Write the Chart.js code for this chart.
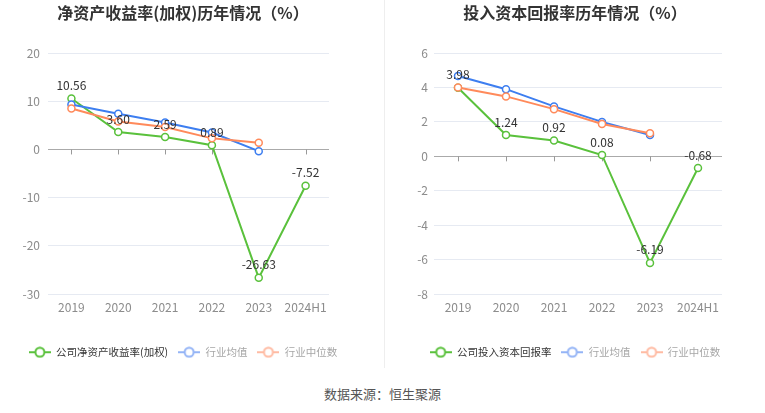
<!DOCTYPE html>
<html lang="zh-CN">
<head>
<meta charset="UTF-8">
<title>净资产收益率与投入资本回报率历年情况</title>
<script src="https://cdn.jsdelivr.net/npm/chart.js@4"></script>
<style>
  body { margin: 0; width: 765px; height: 413px; background: #fff; position: relative; overflow: hidden; font-family: "Noto Sans CJK SC", sans-serif; }
  canvas { position: absolute; top: 0; }
  #roe { left: 0; }
  #roic { left: 385px; }
  .divider { position: absolute; left: 384px; top: 0; width: 1px; height: 368px; background: #eeeeee; }
  .source { position: absolute; left: 0; width: 765px; top: 384px; text-align: center; font-size: 13px; color: #555; }
</style>
</head>
<body>
<canvas id="roe" width="370" height="370"></canvas>
<div class="divider"></div>
<canvas id="roic" width="380" height="370"></canvas>
<div class="source">数据来源：恒生聚源</div>

<script>
const years = ["2019", "2020", "2021", "2022", "2023", "2024H1"];

// 净资产收益率(加权)
const roeCompany = [10.56, 3.60, 2.59, 0.89, -26.63, -7.52];
const roeIndustryAvg = [9.3, 7.4, 5.6, 3.5, -0.36, null];
const roeIndustryMedian = [8.5, 5.8, 4.65, 2.3, 1.4, null];

// 投入资本回报率
const roicCompany = [3.98, 1.24, 0.92, 0.08, -6.19, -0.68];
const roicIndustryAvg = [4.66, 3.9, 2.9, 2.0, 1.24, null];
const roicIndustryMedian = [4.0, 3.48, 2.74, 1.88, 1.34, null];

const FONT = '"Noto Sans CJK SC", "Noto Sans", sans-serif';
const GREEN = "#5ac13c";
const BLUE = "#3d7ef0";
const ORANGE = "#ff8a5b";

// small line-with-circle icon for the legend
function makeIcon(color) {
  const c = document.createElement("canvas");
  c.width = 22;
  c.height = 12;
  const g = c.getContext("2d");
  g.strokeStyle = color;
  g.lineWidth = 2;
  g.beginPath();
  g.moveTo(0, 6);
  g.lineTo(22, 6);
  g.stroke();
  g.beginPath();
  g.arc(11, 6, 4.5, 0, Math.PI * 2);
  g.fillStyle = "#fff";
  g.fill();
  g.stroke();
  return c;
}

const legendIcons = [makeIcon(GREEN), makeIcon("#94b4f6"), makeIcon("#ffbba3")];
const legendTextColors = ["#333333", "#a6a6a6", "#a6a6a6"];

// value labels above the company series
const valueLabels = {
  id: "valueLabels",
  afterDatasetsDraw(chart) {
    const meta = chart.getDatasetMeta(0);
    const values = chart.data.datasets[0].data;
    const ctx = chart.ctx;
    ctx.save();
    ctx.font = "12px " + FONT;
    ctx.fillStyle = "#333";
    ctx.textAlign = "center";
    ctx.textBaseline = "middle";
    meta.data.forEach((pt, i) => {
      if (values[i] == null) return;
      ctx.fillText(values[i].toFixed(2), pt.x, pt.y - 13);
    });
    ctx.restore();
  }
};

// short tick marks hanging from the zero line
const zeroTicks = {
  id: "zeroTicks",
  beforeDatasetsDraw(chart) {
    const x = chart.scales.x;
    const y0 = chart.scales.y.getPixelForValue(0);
    const ctx = chart.ctx;
    ctx.save();
    ctx.strokeStyle = "#999";
    ctx.lineWidth = 1;
    x.ticks.forEach((t, i) => {
      const px = Math.round(x.getPixelForTick(i)) + 0.5;
      ctx.beginPath();
      ctx.moveTo(px, y0);
      ctx.lineTo(px, y0 + 5);
      ctx.stroke();
    });
    ctx.restore();
  }
};

function lineSet(label, data, color, order) {
  return {
    label: label,
    data: data,
    borderColor: color,
    backgroundColor: "#fff",
    borderWidth: 2,
    pointRadius: 3.5,
    pointBorderWidth: 1.5,
    pointBackgroundColor: "#fff",
    pointBorderColor: color,
    tension: 0,
    order: order
  };
}

function makeChart(id, title, names, company, avg, median, yMin, yMax, step, leftWidth, rightWidth, tickPad, padR) {
  return new Chart(document.getElementById(id), {
    type: "line",
    data: {
      labels: years,
      datasets: [
        lineSet(names[0], company, GREEN, 3),
        lineSet(names[1], avg, BLUE, 2),
        lineSet(names[2], median, ORANGE, 1)
      ]
    },
    options: {
      responsive: false,
      animation: false,
      layout: { padding: { left: 0, right: padR, top: 0, bottom: 2.5 } },
      plugins: {
        title: {
          display: true,
          text: title,
          color: "#333",
          font: { family: FONT, size: 16, weight: "bold" },
          padding: { top: 3.4, bottom: 30.4 }
        },
        legend: {
          position: "bottom",
          labels: {
            usePointStyle: true,
            pointStyleWidth: 22,
            boxHeight: 11,
            padding: 10,
            font: { family: FONT, size: 10.5 },
            generateLabels: () => names.map((name, i) => ({
              text: name,
              pointStyle: legendIcons[i],
              fontColor: legendTextColors[i],
              fillStyle: "transparent",
              strokeStyle: "transparent",
              lineWidth: 0,
              hidden: false,
              datasetIndex: i
            }))
          }
        },
        tooltip: { enabled: false }
      },
      scales: {
        x: {
          offset: true,
          grid: { display: false, drawTicks: false, offset: true },
          border: { display: false },
          ticks: { color: "#8c8c8c", font: { family: FONT, size: 12 }, padding: 6, maxRotation: 0, minRotation: 0, autoSkip: false },
          afterFit: (s) => { s.height += 16.5; }
        },
        y: {
          min: yMin,
          max: yMax,
          ticks: { stepSize: step, color: "#8c8c8c", font: { family: FONT, size: 12 }, padding: tickPad },
          grid: {
            drawTicks: false,
            color: (ctx) => (ctx.tick && ctx.tick.value === 0 ? "#aaaaaa" : "#e6eaf2")
          },
          border: { display: false },
          afterFit: (s) => { s.width = leftWidth; }
        },
        pad: {
          type: "linear",
          position: "right",
          display: true,
          ticks: { display: false },
          grid: { display: false },
          border: { display: false },
          afterFit: (s) => { s.width = rightWidth; }
        }
      }
    },
    plugins: [valueLabels, zeroTicks]
  });
}

makeChart("roe", "净资产收益率(加权)历年情况（%）",
  ["公司净资产收益率(加权)", "行业均值", "行业中位数"],
  roeCompany, roeIndustryAvg, roeIndustryMedian, -30, 20, 10, 48, 37, 8, 4);

makeChart("roic", "投入资本回报率历年情况（%）",
  ["公司投入资本回报率", "行业均值", "行业中位数"],
  roicCompany, roicIndustryAvg, roicIndustryMedian, -8, 6, 2, 49, 43, 6, 0);
</script>
</body>
</html>
